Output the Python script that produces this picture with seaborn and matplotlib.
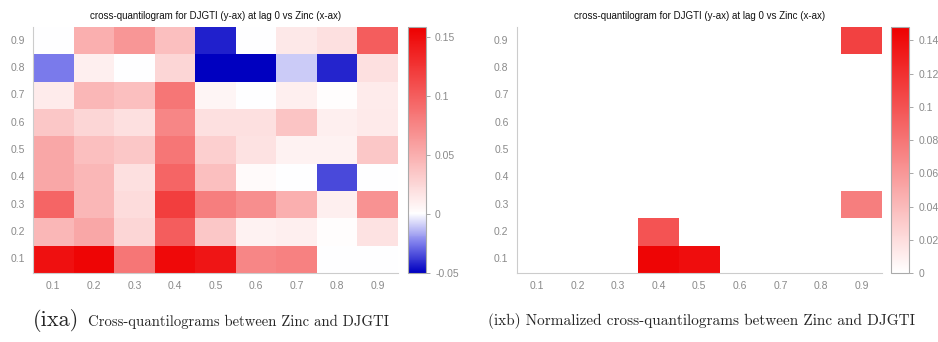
import numpy as np
import pandas as pd
import seaborn as sns
import matplotlib.pyplot as plt
from matplotlib.colors import LinearSegmentedColormap
from matplotlib.ticker import FuncFormatter

# quantile levels (x: Zinc, y: DJGTI)
quantiles = ["0.1", "0.2", "0.3", "0.4", "0.5", "0.6", "0.7", "0.8", "0.9"]
rows_top_down = quantiles[::-1]

# cross-quantilogram values, rows from 0.9 (top) down to 0.1
cq_q09 = [0.000, 0.050, 0.065, 0.040, -0.043, 0.000, 0.015, 0.020, 0.100]
cq_q08 = [-0.025, 0.010, 0.000, 0.025, -0.050, -0.050, -0.010, -0.042, 0.020]
cq_q07 = [0.012, 0.045, 0.040, 0.085, 0.007, 0.000, 0.010, 0.002, 0.012]
cq_q06 = [0.035, 0.025, 0.020, 0.075, 0.020, 0.020, 0.037, 0.010, 0.013]
cq_q05 = [0.055, 0.040, 0.035, 0.085, 0.030, 0.018, 0.008, 0.008, 0.035]
cq_q04 = [0.055, 0.045, 0.020, 0.095, 0.040, 0.003, 0.000, -0.035, 0.000]
cq_q03 = [0.095, 0.045, 0.022, 0.120, 0.080, 0.070, 0.050, 0.010, 0.068]
cq_q02 = [0.045, 0.055, 0.025, 0.100, 0.035, 0.008, 0.010, 0.002, 0.018]
cq_q01 = [0.148, 0.155, 0.085, 0.152, 0.145, 0.075, 0.078, 0.000, 0.000]

# normalized cross-quantilogram (only significant cells), same row order
nan = np.nan
ncq_q09 = [nan, nan, nan, nan, nan, nan, nan, nan, 0.110]
ncq_q08 = [nan] * 9
ncq_q07 = [nan] * 9
ncq_q06 = [nan] * 9
ncq_q05 = [nan] * 9
ncq_q04 = [nan] * 9
ncq_q03 = [nan, nan, nan, nan, nan, nan, nan, nan, 0.075]
ncq_q02 = [nan, nan, nan, 0.100, nan, nan, nan, nan, nan]
ncq_q01 = [nan, nan, nan, 0.145, 0.140, nan, nan, nan, nan]

cq = pd.DataFrame([cq_q09, cq_q08, cq_q07, cq_q06, cq_q05, cq_q04, cq_q03, cq_q02, cq_q01],
                  index=rows_top_down, columns=quantiles)
ncq = pd.DataFrame([ncq_q09, ncq_q08, ncq_q07, ncq_q06, ncq_q05, ncq_q04, ncq_q03, ncq_q02, ncq_q01],
                   index=rows_top_down, columns=quantiles)

vmin_a, vmax_a = -0.05, 0.1585
vmin_b, vmax_b = 0.0, 0.148

sns.set_style("white")
plt.rcParams['font.family'] = ['Liberation Sans', 'DejaVu Sans']

cmap_a = LinearSegmentedColormap.from_list(
    "cq", [(0.0, "#0000C0"), (0.5 * (-vmin_a) / (vmax_a - vmin_a), "#7C7CEC"),
           ((-vmin_a) / (vmax_a - vmin_a), "#FFFFFF"), (1.0, "#EE0000")])
cmap_b = LinearSegmentedColormap.from_list("ncq", ["#FFFFFF", "#EE0000"])

fig = plt.figure(figsize=(9.38, 3.42), dpi=100)
ax_a = fig.add_axes([0.0352, 0.2018, 0.389, 0.719])
cax_a = fig.add_axes([0.435, 0.2018, 0.0192, 0.719])
ax_b = fig.add_axes([0.551, 0.2018, 0.389, 0.719])
cax_b = fig.add_axes([0.950, 0.2018, 0.0192, 0.719])

title = "cross-quantilogram for DJGTI (y-ax) at lag 0 vs Zinc (x-ax)"
tick_col = "#8a8a8a"
fmt = FuncFormatter(lambda v, p: f"{v:g}")

panels = [(ax_a, cax_a, cq, cmap_a, vmin_a, vmax_a, [-0.05, 0, 0.05, 0.1, 0.15]),
          (ax_b, cax_b, ncq, cmap_b, vmin_b, vmax_b, [0, 0.02, 0.04, 0.06, 0.08, 0.1, 0.12, 0.14])]

for ax, cax, df, cmap, lo, hi, cticks in panels:
    sns.heatmap(df, ax=ax, cmap=cmap, vmin=lo, vmax=hi, cbar_ax=cax, square=False)
    ax.set_title(title, fontsize=7, color="#111111", pad=6)
    ax.set_xlabel("")
    ax.set_ylabel("")
    ax.set_xticklabels(quantiles, rotation=0)
    ax.set_yticklabels(rows_top_down, rotation=0)
    ax.tick_params(axis="both", length=3, width=0.6, color="#bbbbbb",
                   labelcolor=tick_col, labelsize=7.5, pad=3)
    for side in ["left", "bottom"]:
        ax.spines[side].set_visible(True)
        ax.spines[side].set_color("#cccccc")
        ax.spines[side].set_linewidth(0.8)

    cb = ax.collections[0].colorbar
    cb.set_ticks(cticks)
    cb.ax.yaxis.set_major_formatter(fmt)
    cb.ax.tick_params(length=3, width=0.6, color="#999999", labelcolor=tick_col, labelsize=7.5)
    cb.outline.set_visible(True)
    cb.outline.set_edgecolor("#aaaaaa")
    cb.outline.set_linewidth(0.8)

# captions under each panel
fig.text(33 / 938, 1 - 320 / 342, "(ixa)", family="cmr10", fontsize=16, va="center", ha="left")
fig.text(88 / 938, 1 - 322 / 342, "Cross-quantilograms between Zinc and DJGTI",
         family="cmr10", fontsize=10.6, va="center", ha="left")
fig.text(488 / 938, 1 - 321 / 342, "(ixb) Normalized cross-quantilograms between Zinc and DJGTI",
         family="cmr10", fontsize=11, va="center", ha="left")

fig.savefig("out.png", dpi=100)
